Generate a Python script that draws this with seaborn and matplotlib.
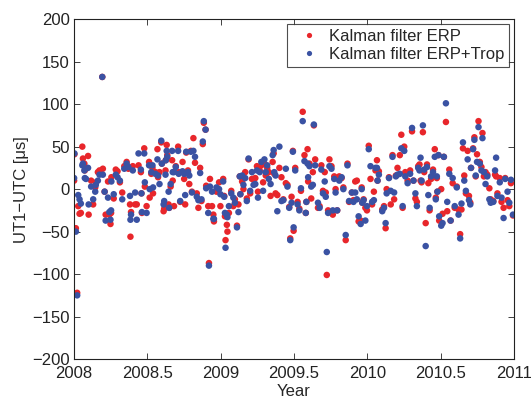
import matplotlib
matplotlib.use("Agg")
import matplotlib.pyplot as plt
import numpy as np
import pandas as pd
import seaborn as sns

# Epochs (years after 2008) and UT1-UTC residuals [us]
t_offset = [
    0.002, 0.004, 0.014, 0.023, 0.030, 0.039, 0.048, 0.058, 0.062, 0.072,
    0.075, 0.083, 0.097, 0.101, 0.118, 0.132, 0.146, 0.150, 0.164, 0.175,
    0.194, 0.198, 0.210, 0.217, 0.233, 0.242, 0.250, 0.254, 0.256, 0.272,
    0.286, 0.298, 0.314, 0.330, 0.344, 0.360, 0.372, 0.383, 0.386, 0.390,
    0.402, 0.418, 0.429, 0.441, 0.457, 0.461, 0.464, 0.480, 0.484, 0.496,
    0.513, 0.517, 0.528, 0.536, 0.540, 0.556, 0.570, 0.574, 0.584, 0.596,
    0.600, 0.612, 0.616, 0.625, 0.627, 0.633, 0.637, 0.646, 0.650, 0.660,
    0.670, 0.674, 0.683, 0.695, 0.711, 0.715, 0.725, 0.741, 0.752, 0.759,
    0.766, 0.778, 0.787, 0.798, 0.805, 0.815, 0.826, 0.838, 0.849, 0.861,
    0.870, 0.879, 0.886, 0.898, 0.902, 0.916, 0.921, 0.928, 0.942, 0.951,
    0.955, 0.972, 0.990, 0.999, 1.018, 1.025, 1.030, 1.034, 1.043, 1.047,
    1.057, 1.073, 1.087, 1.098, 1.112, 1.122, 1.131, 1.135, 1.147, 1.156,
    1.168, 1.179, 1.191, 1.202, 1.214, 1.225, 1.237, 1.248, 1.255, 1.267,
    1.278, 1.290, 1.299, 1.308, 1.318, 1.329, 1.341, 1.355, 1.362, 1.366,
    1.375, 1.387, 1.401, 1.415, 1.428, 1.445, 1.456, 1.468, 1.475, 1.484,
    1.493, 1.498, 1.509, 1.525, 1.537, 1.548, 1.560, 1.572, 1.581, 1.585,
    1.593, 1.597, 1.606, 1.618, 1.629, 1.636, 1.645, 1.664, 1.675, 1.687,
    1.698, 1.710, 1.717, 1.724, 1.733, 1.742, 1.756, 1.765, 1.775, 1.784,
    1.795, 1.809, 1.825, 1.837, 1.853, 1.865, 1.876, 1.895, 1.906, 1.918,
    1.929, 1.941, 1.955, 1.962, 1.966, 1.975, 1.987, 1.998, 2.010, 2.022,
    2.033, 2.045, 2.056, 2.066, 2.070, 2.079, 2.102, 2.114, 2.125, 2.132,
    2.148, 2.160, 2.172, 2.183, 2.195, 2.206, 2.222, 2.232, 2.241, 2.252,
    2.259, 2.275, 2.292, 2.305, 2.315, 2.328, 2.338, 2.347, 2.356, 2.363,
    2.370, 2.379, 2.388, 2.398, 2.407, 2.416, 2.425, 2.435, 2.448, 2.460,
    2.467, 2.474, 2.478, 2.485, 2.490, 2.504, 2.513, 2.522, 2.536, 2.545,
    2.559, 2.568, 2.582, 2.596, 2.610, 2.622, 2.633, 2.642, 2.652, 2.661,
    2.672, 2.684, 2.693, 2.702, 2.707, 2.721, 2.730, 2.739, 2.748, 2.758,
    2.767, 2.778, 2.785, 2.795, 2.806, 2.818, 2.832, 2.841, 2.859, 2.871,
    2.878, 2.887, 2.903, 2.915, 2.929, 2.940, 2.956, 2.968, 2.979, 2.993,
]

erp = [
    10, 41, -46, -122, -20, -29, -28, 50, 36, 30,
    22, 25, 39, -30, 10, -18, 2, 8, 20, 22,
    132, 24, -3, -30, 9, -30, -41, -28, 14, -11,
    23, 21, 8, -4, 27, 32, 24, -18, -56, -27,
    27, -18, -18, 28, 20, -5, -28, 48, 3, -20,
    32, -10, 18, 25, -5, 20, 47, 14, 20, 55,
    30, -26, -23, 22, 34, 52, 40, -18, -22, 3,
    34, 10, -20, 27, 50, 20, -15, 32, 12, -18,
    43, 22, 6, 45, -3, 60, 31, -5, -22, 25,
    -14, 53, 78, 70, 4, -20, -87, 12, -20, -30,
    -38, -3, 8, -20, 12, -8, -32, -60, -42, -50,
    -28, -2, -20, -12, -43, -18, 15, -6, 9, 0,
    20, -11, 35, -5, 12, 12, 13, 27, -3, 22,
    28, 8, 30, 16, 25, 20, -8, 32, 42, 18,
    -5, -7, 25, 14, -12, 7, 5, -21, -58, -9,
    45, -49, 25, -15, -23, -2, 91, 40, -28, -15,
    47, 9, 30, -11, 20, 75, 35, -22, -20, 28,
    -2, 20, -4, -101, -25, 35, 27, -30, 15, 0,
    -25, 15, 13, 2, -60, 30, -15, -4, -13, 9,
    10, -38, -37, 2, -16, -12, -22, -25, 51, 12,
    -18, -3, 22, 34, 10, 21, -24, -20, -46, 0,
    14, -18, 40, -12, 16, 25, 40, 64, -22, 50,
    20, 10, 22, 68, 10, -11, -15, 27, 29, 10,
    8, 67, 20, -40, 29, 7, -25, 12, 23, 47,
    -10, 13, -3, 40, -37, 0, -29, 38, 79, -26,
    23, -37, 7, -22, 3, -24, -53, -24, 48, 16,
    -5, 45, -8, -16, 25, 48, 61, 15, 41, 80,
    32, 26, 66, 15, 20, 17, 1, -12, -14, 17,
    15, -5, 13, -15, -22, 13, -13, -20, 7, -31,
]

erp_trop = [
    13, 42, -50, -125, -7, -12, -17, 28, 30, 22,
    13, 12, 25, -18, 3, -12, -3, 5, 10, 17,
    132, 17, -3, -37, -10, -27, -36, -25, 9, -6,
    17, 14, 10, -12, 24, 30, 26, -8, -36, -30,
    22, -4, -36, 42, 23, -5, -27, 42, 8, -28,
    28, 0, 20, 28, 2, 18, 35, 16, 6, 57,
    30, -18, -14, 17, 34, 45, 38, -3, -22, 6,
    45, 20, 20, 26, 45, 18, -14, 21, 18, -7,
    44, 20, 16, 44, -4, 45, 38, -9, -13, 19,
    -12, 56, 80, 70, 1, -28, -90, 3, -3, -35,
    -35, 2, 0, -6, 9, -9, -28, -69, -30, -33,
    -20, -5, -10, -16, -45, -27, 15, -6, 16, 5,
    13, -14, 36, -2, 20, 5, 6, 22, -10, 20,
    32, -2, 35, 20, 28, 12, 6, 40, 46, 20,
    16, -26, 50, -14, -13, 24, 3, -22, -60, -16,
    44, -45, 22, -18, -25, 1, 80, 33, -28, -15,
    30, 14, 27, 3, 5, 76, 28, -16, -22, 23,
    -5, 9, -9, -74, -28, 27, 24, -25, 12, -4,
    -25, 10, 14, 0, -54, 28, -14, -4, -15, -4,
    -12, -32, -41, 0, -16, -13, -37, -20, 47, 27,
    -15, -13, 25, 25, 10, 17, -26, -22, -40, -5,
    13, -2, 38, -4, 15, 17, 18, 48, -20, 45,
    15, 7, 18, 72, 10, -5, -20, 25, 22, 37,
    10, 75, 23, -67, 26, -7, -22, 15, 20, 38,
    -12, 15, -3, 40, -32, -43, -40, 38, 101, -15,
    18, -37, 13, -20, 2, -30, -58, -17, 55, 10,
    -2, 35, -13, -18, 25, 47, 58, 16, 32, 73,
    30, 22, 60, 20, 6, 15, -12, -16, -15, 22,
    37, -8, 8, -10, -34, 12, -3, -16, 11, -30,
]

labels = ["Kalman filter ERP", "Kalman filter ERP+Trop"]
colors = {"Kalman filter ERP": "#e8262b", "Kalman filter ERP+Trop": "#3a52a3"}

years = 2008 + np.array(t_offset)
df = pd.concat([
    pd.DataFrame({"year": years, "value": erp, "series": labels[0]}),
    pd.DataFrame({"year": years, "value": erp_trop, "series": labels[1]}),
], ignore_index=True)

sns.set_style("ticks")
plt.rcParams["font.family"] = ["Liberation Sans", "DejaVu Sans"]

fig = plt.figure(figsize=(5.31, 3.99), dpi=100)
ax = fig.add_axes([0.139, 0.100, 0.829, 0.852])

sns.scatterplot(
    data=df,
    x="year",
    y="value",
    hue="series",
    palette=colors,
    s=22,
    linewidth=0,
    ax=ax)

ax.set_xlim(2008, 2011)
ax.set_ylim(-200, 200)
ax.set_xticks([2008, 2008.5, 2009, 2009.5, 2010, 2010.5, 2011])
ax.set_xticklabels(["2008", "2008.5", "2009", "2009.5", "2010", "2010.5", "2011"])
ax.set_yticks(np.arange(-200, 201, 50))
ax.tick_params(direction="in", top=True, right=True, length=4, width=0.6,
               labelsize=12, colors="#222222", pad=3)
ax.tick_params(axis="x", pad=5)
for sp in ax.spines.values():
    sp.set_visible(True)
    sp.set_linewidth(0.8)
    sp.set_color("#222222")

ax.set_xlabel("Year", fontsize=12, labelpad=2)
ax.set_ylabel("UT1\u2212UTC [\u03bcs]", fontsize=12, labelpad=2)

leg = ax.legend(loc="upper right", fontsize=12, frameon=True, fancybox=False,
                borderaxespad=0.28, handletextpad=0.2, handlelength=2.0,
                markerscale=0.8, borderpad=0.3, labelspacing=0.2)
leg.get_frame().set_edgecolor("#222222")
leg.get_frame().set_linewidth(0.8)

fig.savefig("out.png", dpi=100)
